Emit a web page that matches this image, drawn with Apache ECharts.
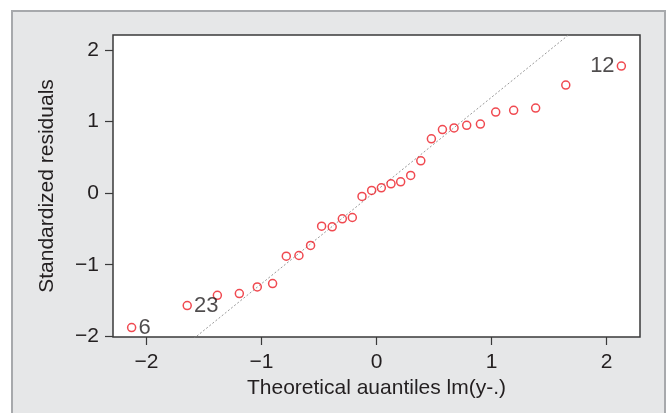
<!DOCTYPE html>
<html>
<head>
<meta charset="utf-8">
<script src="https://cdn.jsdelivr.net/npm/echarts@6/dist/echarts.min.js"></script>
<style>html,body{margin:0;padding:0;background:#fff;}#c{width:667px;height:413px;}</style>
</head>
<body>
<div id="c"></div>
<script>
// Theoretical quantiles (x)
var theoretical = [-2.128, -1.645, -1.383, -1.192, -1.036, -0.903, -0.784, -0.674, -0.573, -0.477,
  -0.385, -0.297, -0.210, -0.126, -0.042, 0.042, 0.126, 0.210, 0.297, 0.385,
  0.477, 0.573, 0.674, 0.784, 0.903, 1.036, 1.192, 1.383, 1.645, 2.128];
// Standardized residuals (y)
var residuals = [-1.878, -1.571, -1.427, -1.403, -1.310, -1.263, -0.881, -0.871, -0.731, -0.462,
  -0.471, -0.359, -0.340, -0.046, 0.038, 0.074, 0.130, 0.158, 0.248, 0.452,
  0.759, 0.888, 0.912, 0.948, 0.965, 1.133, 1.157, 1.189, 1.510, 1.776];
// Point labels (observation numbers)
var pointLabels = {0: '6', 1: '23', 29: '12'};
// Reference line (intercept, slope)
var refIntercept = 0.037;
var refSlope = 1.303;
var xTicks = [-2, -1, 0, 1, 2];
var yTicks = [-2, -1, 0, 1, 2];
var xTitle = 'Theoretical auantiles lm(y-.)';
var yTitle = 'Standardized residuals';

var xMin = -2.29, xMax = 2.29, yMin = -2.01, yMax = 2.21;

var chart = echarts.init(document.getElementById('c'), null, {renderer: 'canvas'});
var fontFam = '"Liberation Sans", Arial, Helvetica, sans-serif';
var txt = '#231f20';
function fmt(v) { return String(v).replace('-', '\u2212'); }

var pts = theoretical.map(function (x, i) {
  var d = {value: [x, residuals[i]]};
  if (pointLabels[i] !== undefined) {
    d.label = {show: true, formatter: pointLabels[i], position: i === 29 ? 'left' : 'right'};
  }
  return d;
});
var refData = [[xMin, refIntercept + refSlope * xMin], [xMax, refIntercept + refSlope * xMax]];

chart.setOption({
  backgroundColor: '#fff',
  animation: false,
  graphic: [{
    type: 'rect', z: -100, zlevel: 0, silent: true,
    shape: {x: 12, y: 11, width: 653, height: 420},
    style: {fill: '#e6e7e8', stroke: '#a7a9ac', lineWidth: 2}
  }],
  grid: {
    left: 113, top: 35, width: 527, height: 302,
    show: true, backgroundColor: '#fff', borderColor: '#3a3a3a', borderWidth: 1.5, z: 1
  },
  xAxis: {
    type: 'value', min: xMin, max: xMax,
    splitLine: {show: false},
    axisLine: {show: false, onZero: false},
    axisTick: {show: true, length: 8, customValues: xTicks, lineStyle: {color: '#3a3a3a', width: 1.2}},
    axisLabel: {customValues: xTicks, formatter: fmt, fontSize: 21, color: txt, fontFamily: fontFam, margin: 15},
    name: xTitle, nameLocation: 'middle', nameGap: 36,
    nameTextStyle: {fontSize: 21, color: txt, fontFamily: fontFam}
  },
  yAxis: {
    type: 'value', min: yMin, max: yMax,
    splitLine: {show: false},
    axisLine: {show: false, onZero: false},
    axisTick: {show: true, length: 8, customValues: yTicks, lineStyle: {color: '#3a3a3a', width: 1.2}},
    axisLabel: {customValues: yTicks, formatter: fmt, fontSize: 21, color: txt, fontFamily: fontFam, margin: 14},
    name: yTitle, nameLocation: 'middle', nameGap: 55, nameRotate: 90,
    nameTextStyle: {fontSize: 21, color: txt, fontFamily: fontFam}
  },
  series: [{
    type: 'line', data: refData, showSymbol: false, symbol: 'none', clip: true, z: 2,
    lineStyle: {color: '#999', width: 1, type: [2, 2]}, silent: true
  }, {
    type: 'scatter', data: pts, symbol: 'circle', symbolSize: 8, z: 3,
    itemStyle: {color: 'rgba(255,255,255,0)', borderColor: '#ec1c24', borderWidth: 1.5},
    label: {show: false, fontSize: 22, color: txt, fontFamily: fontFam, distance: 2}
  }]
});
</script>
</body>
</html>
